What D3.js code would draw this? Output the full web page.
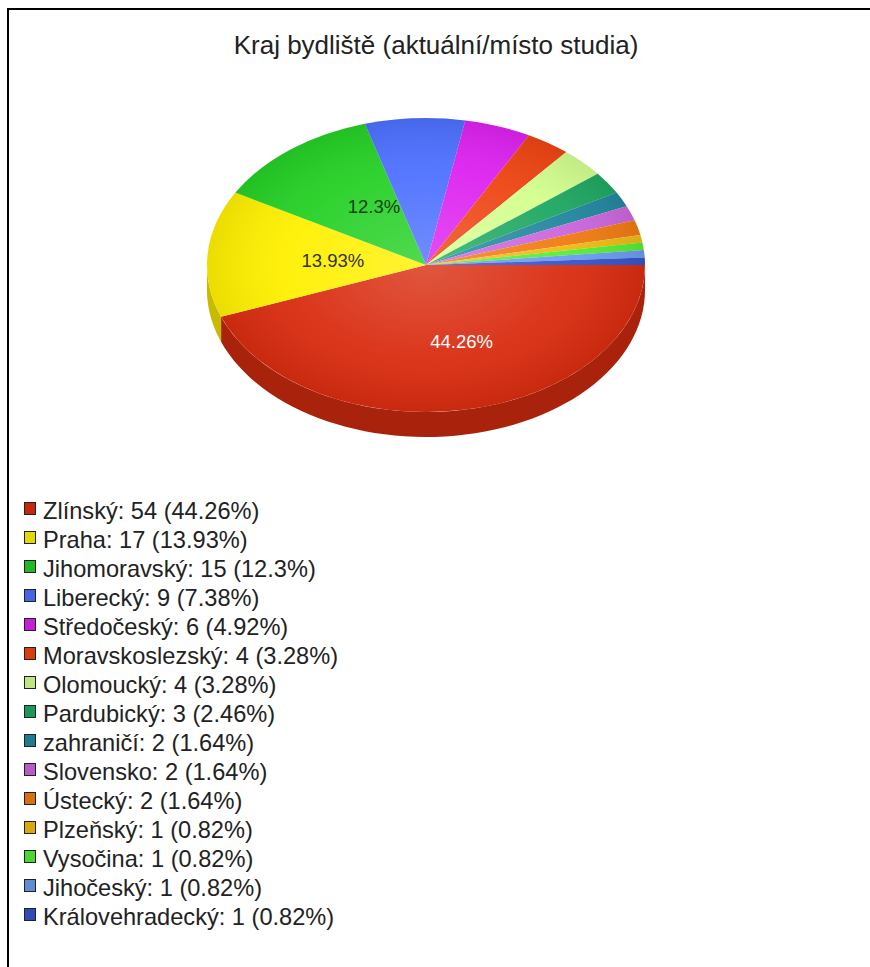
<!DOCTYPE html>
<html>
<head>
<meta charset="utf-8">
<script src="https://cdn.jsdelivr.net/npm/d3@7"></script>
<style>
  body { margin: 0; background: #fff; }
  text { font-family: "Liberation Sans", Arial, sans-serif; }
</style>
</head>
<body>
<svg></svg>
<script>
const size = {w: 870, h: 967};
const svg = d3.select('svg').attr('width', size.w).attr('height', size.h);

// data
const regions = ['Zlínský', 'Praha', 'Jihomoravský', 'Liberecký', 'Středočeský', 'Moravskoslezský',
    'Olomoucký', 'Pardubický', 'zahraničí', 'Slovensko', 'Ústecký', 'Plzeňský', 'Vysočina',
    'Jihočeský', 'Královehradecký'];
const counts = [54, 17, 15, 9, 6, 4, 4, 3, 2, 2, 2, 1, 1, 1, 1];
const colors = ['#d92c10', '#fff000', '#25d025', '#4d70ff', '#dd22f0', '#ee4412',
    '#d4ff90', '#1fa862', '#23879f', '#cc66dd', '#f07b12', '#eebb14', '#55ee33',
    '#6b9cee', '#3355cc'];
const title = 'Kraj bydliště (aktuální/místo studia)';

const total = d3.sum(counts);
const pct = v => +(v / total * 100).toFixed(2) + '%';

// frame
svg.append('path')
    .attr('d', 'M8,967V9H870')
    .attr('fill', 'none')
    .attr('stroke', '#000')
    .attr('stroke-width', 2);

svg.append('text')
    .attr('x', 436).attr('y', 54)
    .attr('text-anchor', 'middle')
    .attr('font-size', 26)
    .attr('fill', '#222')
    .text(title);

// 3d pie geometry
const cx = 426, cy = 265, rx = 219, ry = 147, depth = 25;
const data = regions.map((r, i) => ({name: r, value: counts[i], color: colors[i]}));

// start at 3 o'clock, go clockwise (d3 angles start at 12 o'clock)
const pie = d3.pie().value(d => d.value).sort(null)
    .startAngle(Math.PI / 2).endAngle(Math.PI / 2 + 2 * Math.PI);
const arcs = pie(data);

const defs = svg.append('defs');
const shine = defs.append('radialGradient').attr('id', 'shine')
    .attr('cx', 0.5).attr('cy', 0.5).attr('r', 0.5);
shine.append('stop').attr('offset', '0%').attr('stop-color', '#fff').attr('stop-opacity', 0.2);
shine.append('stop').attr('offset', '65%').attr('stop-color', '#fff').attr('stop-opacity', 0.05);
shine.append('stop').attr('offset', '100%').attr('stop-color', '#000').attr('stop-opacity', 0.08);

const pieG = svg.append('g');

// screen angle (0 = east, clockwise) from d3 angle
const toScreen = a => a - Math.PI / 2;
const pt = (t, dy) => [cx + rx * Math.cos(t), cy + ry * Math.sin(t) + dy];

// side walls only for the front half (0..PI)
const sideLine = d3.line();
arcs.forEach(a => {
    let t0 = toScreen(a.startAngle) % (2 * Math.PI);
    let t1 = t0 + (a.endAngle - a.startAngle);
    const s = Math.max(t0, 0), e = Math.min(t1, Math.PI);
    if (e <= s) return;
    const steps = d3.range(0, 61).map(k => s + (e - s) * k / 60);
    const top = steps.map(t => pt(t, 0));
    const bottom = steps.slice().reverse().map(t => pt(t, depth));
    const side = d3.hsl(a.data.color);
    side.l *= 0.78;
    pieG.append('path')
        .attr('d', sideLine(top.concat(bottom)) + 'Z')
        .attr('fill', side.formatHex());
});

const arc = d3.arc().innerRadius(0).outerRadius(rx);
const topG = pieG.append('g')
    .attr('transform', `translate(${cx},${cy}) scale(1,${ry / rx})`);
topG.selectAll('path.slice')
    .data(arcs)
    .join('path')
    .attr('class', 'slice')
    .attr('d', arc)
    .attr('fill', d => d.data.color);
topG.append('circle').attr('r', rx).attr('fill', 'url(#shine)');

// percentage labels on large slices
const labelFill = ['#fff', '#333', '#114411'];
arcs.filter(a => a.value / total > 0.1).forEach((a, i) => {
    const mid = toScreen((a.startAngle + a.endAngle) / 2);
    const p = [cx + 0.5 * rx * Math.cos(mid) + 16, cy + 0.52 * ry * Math.sin(mid) + 8];
    pieG.append('text')
        .attr('x', p[0]).attr('y', p[1])
        .attr('text-anchor', 'middle')
        .attr('font-size', 18.5)
        .attr('fill', labelFill[i])
        .text(pct(a.value));
});

// legend
const legend = svg.append('g').attr('transform', 'translate(24,502)');
const rowH = 29;
const rows = legend.selectAll('g').data(data).join('g')
    .attr('transform', (d, i) => `translate(0,${i * rowH})`);
rows.append('rect')
    .attr('x', 0.5).attr('y', 0.5).attr('width', 11).attr('height', 12)
    .attr('fill', d => d3.color(d.color).darker(0.3))
    .attr('stroke', '#222');
rows.append('text')
    .attr('x', 19).attr('y', 17)
    .attr('font-size', 23.6)
    .attr('fill', '#222')
    .text(d => `${d.name}: ${d.value} (${pct(d.value)})`);
</script>
</body>
</html>
